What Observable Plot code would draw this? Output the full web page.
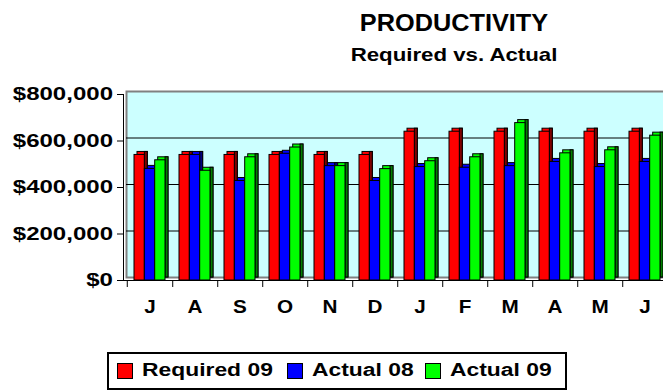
<!DOCTYPE html>
<html>
<head>
<meta charset="utf-8">
<script src="https://cdn.jsdelivr.net/npm/d3@7"></script>
<script src="https://cdn.jsdelivr.net/npm/@observablehq/plot@0.6"></script>
<style>
  html, body { margin: 0; padding: 0; background: #fff; }
  #wrap { position: relative; width: 663px; height: 391px; overflow: hidden; font-family: "Liberation Sans", Arial, sans-serif; color: #000; }
  .ttl { position: absolute; left: 254px; width: 400px; text-align: center; font-weight: bold; line-height: 1; white-space: nowrap; }
  #title { top: 12px; font-size: 23px; transform: scaleX(1.1); }
  #subtitle { top: 44.5px; font-size: 19px; transform: scaleX(1.17); }
  #chart { position: absolute; left: 0; top: 70px; }
  #chart svg { max-width: none !important; background: transparent !important; }
  #chart svg text { font: bold 18px "Liberation Sans", Arial, sans-serif; fill: #000; }
  #chart svg [aria-label^="y-axis"] text { font-size: 18.5px; }
  #legend { position: absolute; left: 107px; top: 352px; width: 456px; height: 34px; border: 2px solid #000; box-sizing: content-box; }
  .sw { position: absolute; top: 9px; width: 14px; height: 14px; border: 1px solid #000; }
  .lt { position: absolute; top: 7px; font: bold 18px "Liberation Sans", Arial, sans-serif; line-height: 1; white-space: nowrap; transform: scaleX(1.27); transform-origin: 0 50%; }
</style>
</head>
<body>
<div id="wrap">
  <div class="ttl" id="title">PRODUCTIVITY</div>
  <div class="ttl" id="subtitle">Required vs. Actual</div>
  <div id="chart"></div>
  <div id="legend"></div>
</div>
<script>
// Months of the fiscal year (July to June) and their axis letters
const months = ["Jul", "Aug", "Sep", "Oct", "Nov", "Dec", "Jan", "Feb", "Mar", "Apr", "May", "Jun"];
const monthLabels = ["J", "A", "S", "O", "N", "D", "J", "F", "M", "A", "M", "J"];

// Monthly productivity in dollars
const required09 = [540000, 540000, 540000, 540000, 540000, 540000, 640000, 640000, 640000, 640000, 640000, 640000];
const actual08   = [480000, 540000, 428000, 545000, 492000, 428000, 488000, 485000, 492000, 510000, 488000, 510000];
const actual09   = [517000, 472000, 530000, 572000, 492000, 479000, 513000, 530000, 677000, 547000, 560000, 623000];

const seriesNames = ["Required 09", "Actual 08", "Actual 09"];
const seriesValues = [required09, actual08, actual09];
const faceColors = ["#ff0000", "#0000ff", "#00ff00"];
const sideColors = ["#800000", "#000080", "#008000"];

const yTicks = [0, 200000, 400000, 600000, 800000];
const gridValues = [200000, 400000, 600000];

// Layout of the plot SVG
const W = 670, H = 250, mt = 24, mb = 40, ml = 123, mr = 0;
const padInner = 0.317, padOuter = 0.176;
const step = (W - ml - mr) / (months.length - padInner + 2 * padOuter);
const bandW = step * (1 - padInner);
const slot = bandW / 3;     // one column inside a month group
const depth = 3;            // 3-D extrusion of columns and back wall
const frameH = H - mt - mb;

// Each series is drawn as a back face (gives the top), a dark side strip, and the front face
function columnMarks(values, k) {
  const rows = months.map((m, i) => ({month: m, value: values[i]}));
  const base = {x: "month", y: "value", insetLeft: k * slot, insetRight: (2 - k) * slot, stroke: "#000", strokeWidth: 1};
  return [
    Plot.barY(rows, {...base, fill: faceColors[k], dx: depth, dy: -depth}),
    Plot.barY(rows, {...base, insetLeft: (k + 1) * slot - depth, fill: sideColors[k], dx: depth, dy: -depth}),
    Plot.barY(rows, {...base, fill: faceColors[k]})
  ];
}

const chart = Plot.plot({
  width: W,
  height: H,
  marginTop: mt,
  marginBottom: mb,
  marginLeft: ml,
  marginRight: mr,
  x: {
    domain: months,
    paddingInner: padInner,
    paddingOuter: padOuter,
    tickSize: 0,
    tickPadding: 20,
    tickFormat: d => monthLabels[months.indexOf(d)],
    line: true,
    label: null
  },
  y: {
    domain: [0, 800000],
    ticks: yTicks,
    tickSize: 6,
    tickPadding: 4.5,
    tickFormat: d => "$" + d3.format(",")(d),
    line: true,
    label: null
  },
  marks: [
    Plot.frame({fill: "#ccffff", stroke: "#808080", strokeWidth: 2, dx: depth, dy: -depth}),
    Plot.ruleY(gridValues, {stroke: "#000", strokeWidth: 1, dx: depth, dy: -depth}),
    ...seriesValues.flatMap((v, k) => columnMarks(v, k)),
    // tick marks between month groups
    Plot.tickX(months, {x: d => d, dx: step / 2, insetTop: frameH, insetBottom: -7, stroke: "#000"}),
    Plot.tickX(months.slice(0, 1), {x: d => d, dx: -step / 2, insetTop: frameH, insetBottom: -7, stroke: "#000"})
  ]
});
document.getElementById("chart").appendChild(chart);

// Wide lettering of the axis labels: stretch each label horizontally about its anchor
function stretchText(selector, k) {
  chart.querySelectorAll(selector).forEach(t => {
    const ax = parseFloat(t.getAttribute("x")) || 0;
    const prev = t.getAttribute("transform") || "";
    t.setAttribute("transform", `${prev} translate(${ax},0) scale(${k},1) translate(${-ax},0)`);
  });
}
stretchText('[aria-label^="y-axis"] text', 1.3);
stretchText('[aria-label^="x-axis"] text', 1.15);

// Legend
const legend = document.getElementById("legend");
const swatchX = [8, 178, 316];
const textX = [33, 203, 341];
seriesNames.forEach((name, k) => {
  const sw = document.createElement("div");
  sw.className = "sw";
  sw.style.left = swatchX[k] + "px";
  sw.style.background = faceColors[k];
  legend.appendChild(sw);
  const t = document.createElement("div");
  t.className = "lt";
  t.style.left = textX[k] + "px";
  t.textContent = name;
  legend.appendChild(t);
});
</script>
</body>
</html>
